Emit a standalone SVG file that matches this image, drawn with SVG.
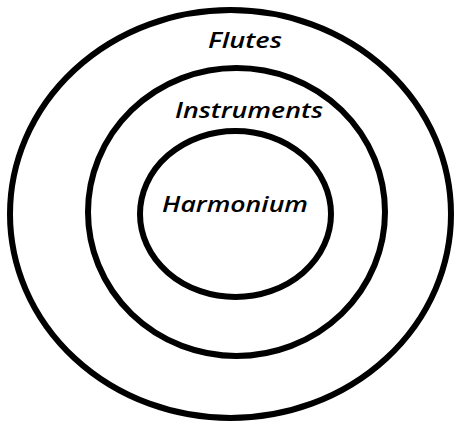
<svg xmlns="http://www.w3.org/2000/svg" width="461" height="425" viewBox="0 0 461 425">
<style>
.ring{fill:none;stroke:#000;stroke-width:6}
.lbl{font-family:"Open Sans","Liberation Sans",sans-serif;font-style:italic;font-weight:600;font-size:22px;fill:#000;text-anchor:start}
</style>
<rect width="461" height="425" fill="#fff"/>
<g id="flutes">
<ellipse class="ring" cx="230.5" cy="214" rx="220.5" ry="204"/>
<text class="lbl" x="208" y="48" textLength="74" lengthAdjust="spacingAndGlyphs">Flutes</text>
</g>
<g id="instruments">
<ellipse class="ring" cx="236.5" cy="212" rx="148.5" ry="144"/>
<text class="lbl" x="175" y="118" textLength="148" lengthAdjust="spacingAndGlyphs">Instruments</text>
</g>
<g id="harmonium">
<ellipse class="ring" cx="235.5" cy="214" rx="95.5" ry="83"/>
<text class="lbl" x="162" y="212" textLength="146" lengthAdjust="spacingAndGlyphs">Harmonium</text>
</g>
<g id="connectors"/>
</svg>
